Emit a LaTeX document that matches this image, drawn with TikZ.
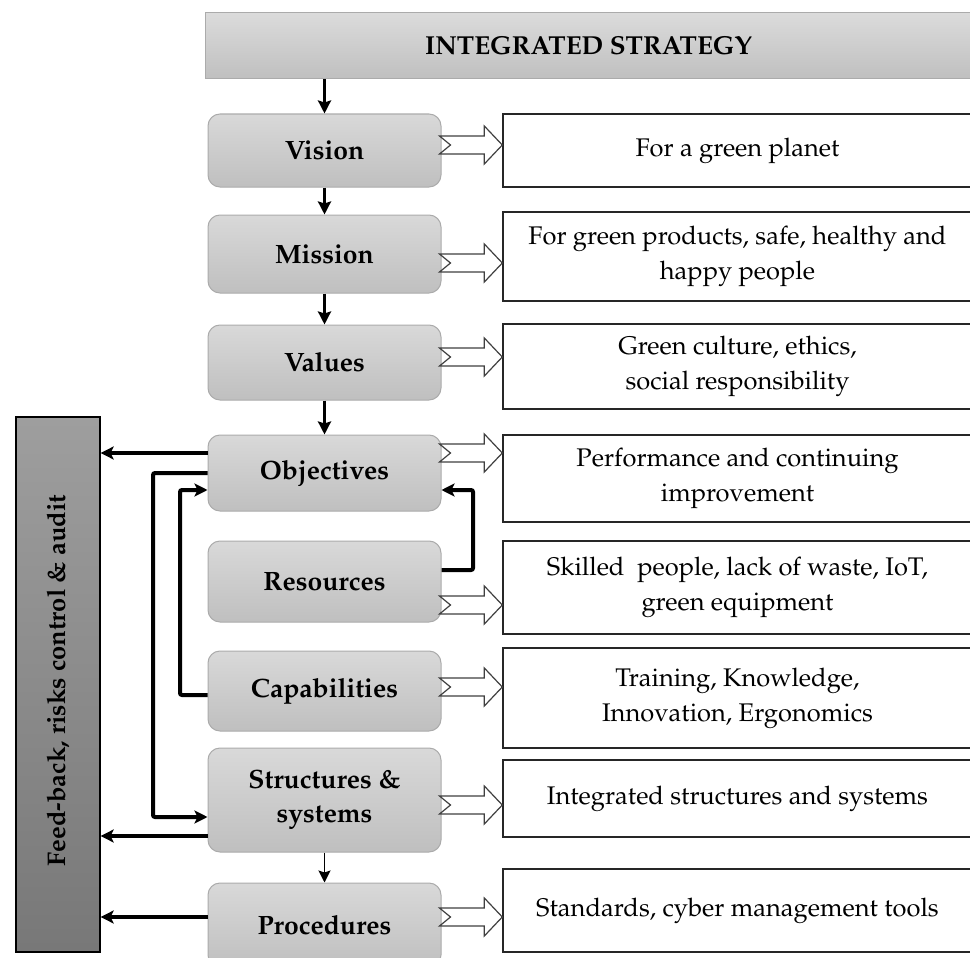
\documentclass[tikz,border=0pt]{standalone}
\usepackage[T1]{fontenc}
\usepackage{mathpazo}
\usetikzlibrary{arrows.meta,calc}
\newcommand\hollowarrow[3]{%
  \coordinate (ha) at (#1.east|-0,#3);
  \coordinate (hb) at (#2.west|-0,#3);
  \draw[hol] ($(ha)+(-2,-9)$) -- ($(hb)+(-18,-9)$) -- ($(hb)+(-18,-19)$) -- (hb)
    -- ($(hb)+(-18,19)$) -- ($(hb)+(-18,9)$) -- ($(ha)+(-2,9)$) -- ($(ha)+(9,0)$) -- cycle;}
\begin{document}
\begin{tikzpicture}[x=1pt,y=-1pt,
  gbox/.style={draw=black!33, line width=1pt, rounded corners=12pt, top color=black!15,
    bottom color=black!25, minimum width=233pt, inner sep=0pt,
    font=\fontsize{26.5}{34}\selectfont\bfseries, align=center},
  wbox/.style={draw=black!85, line width=1.4pt, fill=white, minimum width=469pt,
    inner sep=0pt, font=\fontsize{25.5}{35}\selectfont, align=center},
  topbar/.style={draw=black!33, line width=1pt, top color=black!14, bottom color=black!25,
    minimum width=767pt, minimum height=66pt, inner sep=0pt,
    font=\fontsize{26}{30}\selectfont\bfseries},
  fbbox/.style={draw=black, line width=1.3pt, top color=black!38, bottom color=black!53,
    minimum width=84pt, minimum height=535pt, inner sep=0pt},
  fb/.style={-{Stealth[length=13pt,width=13pt,inset=3pt]}, line width=4pt, rounded corners=2pt},
  dn/.style={-{Stealth[length=13pt,width=13pt,inset=2pt]}, line width=3.5pt},
  dnthin/.style={-{Stealth[length=12pt,width=12pt,inset=2pt]}, line width=1.8pt},
  hol/.style={draw=black!75, line width=1.2pt, fill=white, line join=miter}]
\clip (0,0) rectangle (970,958);
\fill[white] (0,0) rectangle (970,958);

\node[topbar] (top) at (588.5,46) {INTEGRATED STRATEGY};

% left column
\node[gbox, minimum height=73pt]  (vision) at (324.5,150.5) {Vision};
\node[gbox, minimum height=78pt]  (mission) at (324.5,254) {Mission};
\node[gbox, minimum height=75pt]  (values) at (324.5,362.5) {Values};
\node[gbox, minimum height=76pt]  (obj) at (324.5,473) {Objectives};
\node[gbox, minimum height=81pt]  (res) at (324.5,581.5) {Resources};
\node[gbox, minimum height=80pt]  (cap) at (324.5,691) {Capabilities};
\node[gbox, minimum height=104pt] (struct) at (324.5,800) {Structures \&\\systems};
\node[gbox, minimum height=84pt]  (proc) at (324.5,925) {Procedures};

% right column
\node[wbox, minimum height=73pt]  (rvision) at (737.5,150.5) {For a green planet};
\node[wbox, minimum height=89pt]  (rmission) at (737.5,256.5) {For green products, safe, healthy and\\happy people};
\node[wbox, minimum height=85pt]  (rvalues) at (737.5,366.5) {Green culture, ethics,\\social responsibility};
\node[wbox, minimum height=87pt]  (robj) at (737.5,478.5) {Performance and continuing\\improvement};
\node[wbox, minimum height=93pt]  (rres) at (737.5,587.5) {Skilled\ \ people, lack of waste, IoT,\\green equipment};
\node[wbox, minimum height=100pt] (rcap) at (737.5,698) {Training, Knowledge,\\Innovation, Ergonomics};
\node[wbox, minimum height=77pt]  (rstruct) at (737.5,798.5) {Integrated structures and systems};
\node[wbox, minimum height=83pt]  (rproc) at (737.5,910.5) {Standards, cyber management tools};

% feedback box
\node[fbbox] (feed) at (58,684.5) {};
\node[rotate=90, font=\fontsize{25.5}{30}\selectfont\bfseries, inner sep=0pt] (feedtext) at ($(feed.center)+(0,-4)$) {Feed-back, risks control \& audit};

% hollow arrows
\hollowarrow{vision}{rvision}{145}
\hollowarrow{mission}{rmission}{263}
\hollowarrow{values}{rvalues}{357}
\hollowarrow{obj}{robj}{453}
\hollowarrow{res}{rres}{605}
\hollowarrow{cap}{rcap}{687}
\hollowarrow{struct}{rstruct}{805}
\hollowarrow{proc}{rproc}{917}

% down arrows
\draw[dn] (vision.north|-top.south) -- (vision.north);
\draw[dn] (vision.south) -- (mission.north);
\draw[dn] (mission.south) -- (values.north);
\draw[dn] (values.south) -- (obj.north);
\draw[dnthin] (struct.south) -- (proc.north);

% feedback and loops
\draw[fb] (obj.west|-0,453) -- (feed.east|-0,453);
\draw[fb] (obj.west|-0,473) -- (153,473) -- (153,817) -- (struct.west|-0,817);
\draw[fb] (cap.west|-0,695) -- (180,695) -- (180,490) -- (obj.west|-0,490);
\draw[fb] (res.east|-0,570) -- (473,570) -- (473,490) -- (obj.east|-0,490);
\draw[fb] (struct.west|-0,836) -- (feed.east|-0,836);
\draw[fb] (proc.west|-0,917) -- (feed.east|-0,917);
\end{tikzpicture}
\end{document}
